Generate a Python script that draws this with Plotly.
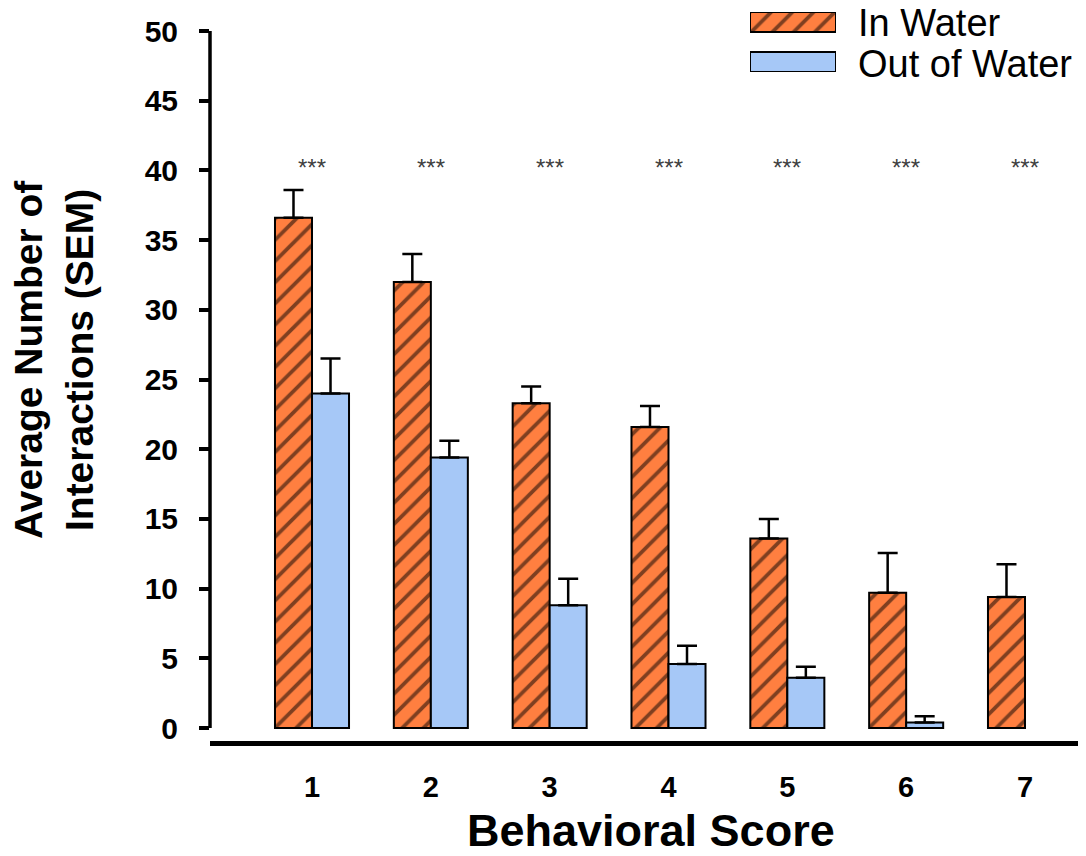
import plotly.graph_objects as go

categories = [1, 2, 3, 4, 5, 6, 7]
in_water = [36.6, 32.0, 23.3, 21.6, 13.6, 9.7, 9.4]
in_water_sem = [2.0, 2.0, 1.2, 1.5, 1.4, 2.85, 2.35]
out_water = [24.0, 19.4, 8.8, 4.6, 3.6, 0.4, None]
out_water_sem = [2.5, 1.2, 1.9, 1.3, 0.8, 0.45, 0.0]
sig_labels = ["***"] * 7
y_ticks = [0, 5, 10, 15, 20, 25, 30, 35, 40, 45, 50]

ORANGE = "#FF7F40"
BLUE = "#A6C8F7"
FONT = "Liberation Sans"

# page has an 8px body margin; figure coordinates = screen - 8
W, H = 1078, 848
L, R, T, B = 202, 0, 0, 115
plot_w = W - L - R
plot_h = H - T - B
px_per_unit = 697 / 50.0
y_top = 50 + (23 - T) / px_per_unit
y_bot = -((H - B) - 720) / px_per_unit
x_left = 1 - (304 - L) / 118.83
x_right = 7 + (W - 1017) / 118.83

hatch = dict(shape="/", fgcolor="black", bgcolor=ORANGE, size=15, solidity=0.25)

fig = go.Figure()

fig.add_trace(go.Bar(
    x=categories, y=in_water, name="In Water",
    marker=dict(color=ORANGE, line=dict(color="black", width=2), pattern=hatch),
    error_y=dict(type="data", symmetric=False, array=in_water_sem,
                 arrayminus=[0] * 7, color="black", thickness=2.5, width=10),
    showlegend=False,
))
fig.add_trace(go.Bar(
    x=categories, y=out_water, name="Out of Water",
    marker=dict(color=BLUE, line=dict(color="black", width=2)),
    error_y=dict(type="data", symmetric=False, array=out_water_sem,
                 arrayminus=[0] * 7, color="black", thickness=2.5, width=10),
    showlegend=False,
))

# legend swatches in a small auxiliary axis
fig.add_trace(go.Bar(
    x=[1], y=[50], orientation="h", width=20, xaxis="x2", yaxis="y2",
    marker=dict(color=ORANGE, line=dict(color="black", width=2), pattern=hatch),
    showlegend=False, hoverinfo="skip",
))
fig.add_trace(go.Bar(
    x=[1], y=[10], orientation="h", width=20, xaxis="x2", yaxis="y2",
    marker=dict(color=BLUE, line=dict(color="black", width=2)),
    showlegend=False, hoverinfo="skip",
))


def px_x(p):
    return (p - L) / plot_w


def px_y(p):
    return (H - B - p) / plot_h


annotations = []
for c, s in zip(categories, sig_labels):
    annotations.append(dict(x=c, y=40.2, xref="x", yref="y", text=s, showarrow=False,
                            font=dict(family=FONT, size=24, color="#404040")))

annotations += [
    dict(x=px_x(848), y=px_y(15), xref="paper", yref="paper", text="In Water",
         xanchor="left", yanchor="middle", showarrow=False,
         font=dict(family=FONT, size=38, color="black")),
    dict(x=px_x(848), y=px_y(56), xref="paper", yref="paper", text="Out of Water",
         xanchor="left", yanchor="middle", showarrow=False,
         font=dict(family=FONT, size=38, color="black")),
    dict(x=px_x(643), y=px_y(822), xref="paper", yref="paper", text="<b>Behavioral Score</b>",
         xanchor="center", yanchor="middle", showarrow=False,
         font=dict(family=FONT, size=45, color="black")),
    dict(x=px_x(46), y=px_y(352), xref="paper", yref="paper",
         text="<b>Average Number of<br>Interactions (SEM)</b>", textangle=-90,
         xanchor="center", yanchor="middle", showarrow=False,
         font=dict(family=FONT, size=39, color="black")),
]

shapes = [
    dict(type="line", xref="paper", yref="y", x0=0, x1=0, y0=0, y1=50,
         line=dict(color="black", width=3.5)),
]

fig.update_layout(
    width=W, height=H,
    margin=dict(l=L, r=R, t=T, b=B, pad=0),
    paper_bgcolor="white", plot_bgcolor="white",
    barmode="group", bargap=0.377, bargroupgap=0,
    font=dict(family=FONT, color="black"),
    annotations=annotations, shapes=shapes,
    xaxis=dict(range=[x_left, x_right], tickmode="array", tickvals=categories,
               ticktext=[f"<b>{c}</b>" for c in categories],
               tickfont=dict(family=FONT, size=29, color="black"),
               showline=True, linecolor="black", linewidth=5, ticks="",
               ticklabelstandoff=16, showgrid=False, zeroline=False),
    yaxis=dict(range=[y_bot, y_top], tickmode="array", tickvals=y_ticks,
               ticktext=[f"<b>{t}</b>" for t in y_ticks],
               tickfont=dict(family=FONT, size=30, color="black"),
               ticks="outside", ticklen=10, tickwidth=3.5, tickcolor="black",
               ticklabelstandoff=15,
               showline=False, showgrid=False, zeroline=False),
    xaxis2=dict(domain=[px_x(742), px_x(828)], range=[0, 1], visible=False,
                anchor="y2", fixedrange=True),
    yaxis2=dict(domain=[px_y(64), px_y(4)], range=[0, 60], visible=False,
                anchor="x2", fixedrange=True),
)

fig.write_html("out.html")
